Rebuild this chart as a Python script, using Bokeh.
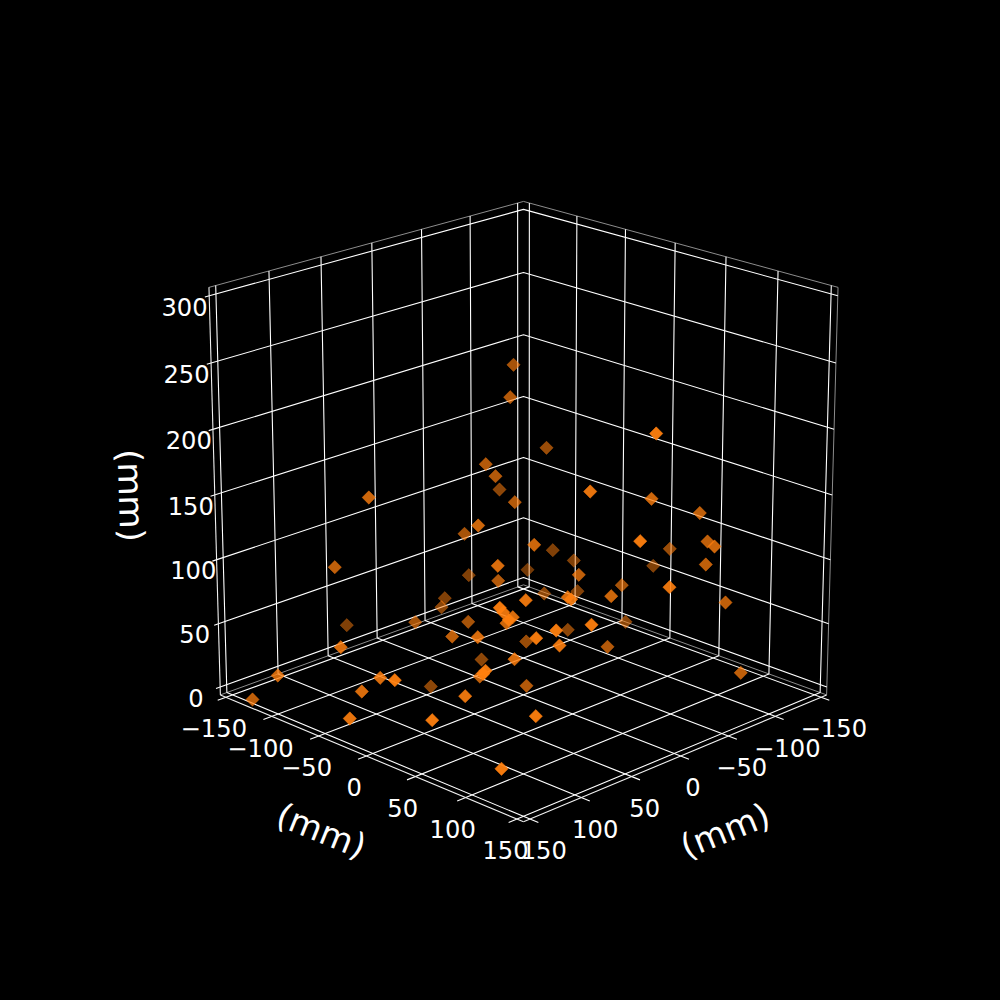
import numpy as np
from bokeh.plotting import figure
from bokeh.core.properties import value
from bokeh.embed import file_html
from bokeh.resources import INLINE

# ---- axis ticks (mm)
x_ticks = [-150, -100, -50, 0, 50, 100, 150]
y_ticks = [-150, -100, -50, 0, 50, 100, 150]
z_ticks = [0, 50, 100, 150, 200, 250, 300]
x_labels = ["\u2212150", "\u2212100", "\u221250", "0", "50", "100", "150"]
y_labels = ["\u2212150", "\u2212100", "\u221250", "0", "50", "100", "150"]
z_labels = ["0", "50", "100", "150", "200", "250", "300"]

# ---- scatter (projected position, depth shade)
pt_u = [513, 509.7, 485.3, 495, 499, 514.3, 368.3, 655.7, 546, 589.7, 651, 699.3,
        334.3, 346.3, 340.3, 277.3, 252, 379.7, 361.3, 394.3, 349.3,
        477.7, 464, 533.7, 552.3, 639.7, 573.3, 497.3, 527, 468.3, 578.3, 497.7,
        621.3, 543.7, 577, 610.7, 444.3, 525.3, 567.3, 570.7, 441, 499.3, 502.7,
        512.3, 508.3, 506, 414.7, 467.7, 451.7, 477.3, 525.7, 535.7, 555.7, 567.3,
        591, 625, 559, 607, 481, 514, 485, 479.3, 482.7, 526, 430.3, 464.7,
        431.7, 535.3, 669.3, 707, 714, 652.7, 705.3, 669, 725, 740.3, 501]
pt_v = [364.3, 396.7, 463.7, 475.7, 489, 501.7, 497, 433, 447.3, 491, 498.3, 512.5,
        566.7, 624.7, 646.7, 675, 699, 677.3, 691, 679.7, 718,
        525, 533.3, 544.3, 549.7, 540.7, 560, 565.3, 569.3, 574.7, 574.3, 580.3,
        584.7, 593, 590.7, 595.7, 597.7, 599.7, 596.7, 598.7, 606.7, 607.3, 611.7,
        616.7, 619.3, 622.7, 621.7, 621.3, 636, 636.7, 641, 637.7, 630, 629.3,
        624.3, 621.3, 645, 646.3, 659, 658.7, 670.3, 676, 673.3, 685.3, 686, 695.7,
        719.7, 715.7, 548.3, 541, 546, 565.3, 564, 586.7, 602, 672.3, 768.3]
pt_shade = [.65, .7, .7, .7, .55, .7, .8, .95, .6, .9, .8, .75,
            .75, .5, .85, .8, .75, .85, .85, .95, .9,
            .8, .65, .8, .5, .95, .5, .85, .45, .5, .75, .7,
            .65, .55, .5, .8, .5, .9, .85, .9, .55, .95, .9,
            .85, .95, .8, .65, .65, .75, .85, .6, .95, .95, .55,
            .95, .55, .9, .7, .55, .85, .95, .75, .95, .7, .55, .9,
            .95, .95, .6, .75, .8, .5, .75, .9, .75, .75, .95]

# ---- camera (fitted to the box in the reference; pixels of the 1000 px page)
ELEV = np.radians(20.0)
K = 0.0545
SCALE = 218.3
CX, CY = 523.0, 494.4
LO, HI = -156.25, 156.25
ZLO, ZHI = -6.25, 306.25


def proj(x, y, z):
    x, y = np.asarray(x, float) / HI, np.asarray(y, float) / HI
    z = (np.asarray(z, float) - 150.0) / HI * 0.993
    m = (x + y) / np.sqrt(2)
    r = (y - x) / np.sqrt(2)
    d = m * np.cos(ELEV) + z * np.sin(ELEV)
    t = -m * np.sin(ELEV) + z * np.cos(ELEV)
    f = 1.0 / (1.0 - K * d)
    return (CX + SCALE * r * f).tolist(), (CY - SCALE * t * f).tolist()


p = figure(width=1000, height=1000, x_range=(0, 1000), y_range=(1000, 0),
           output_backend="svg", toolbar_location=None, min_border=0,
           background_fill_color="black", border_fill_color="black")
p.axis.visible = False
p.grid.visible = False
p.outline_line_color = None

# pane edges
edges = [
    ([LO, LO], [HI, LO], [ZHI, ZHI]),
    ([LO, HI], [LO, LO], [ZHI, ZHI]),
    ([LO, LO], [HI, LO], [ZLO, ZLO]),
    ([LO, HI], [LO, LO], [ZLO, ZLO]),
    ([LO, LO], [HI, HI], [ZLO, ZHI]),
]
ex, ey = zip(*[proj(*e) for e in edges])
p.multi_line(list(ex), list(ey), line_color="#8c8c8c", line_width=1.0)

# grid and tick marks
TICK_OUT = 8.0
TICK_Z = 4.0
gx, gy = [], []
for t in x_ticks:
    u, v = proj([t, t, t], [HI + TICK_OUT, LO, LO], [ZLO, ZLO, ZHI])
    gx.append(u); gy.append(v)
for t in y_ticks:
    u, v = proj([HI + TICK_OUT, LO, LO], [t, t, t], [ZLO, ZLO, ZHI])
    gx.append(u); gy.append(v)
for t in z_ticks:
    u, v = proj([HI + TICK_Z, LO, LO], [LO, LO, HI], [t, t, t])
    gx.append(u); gy.append(v)
p.multi_line(gx, gy, line_color="#ffffff", line_width=1.1)

# axis lines
al = [([HI, HI], [LO, HI], [ZLO, ZLO]),
      ([LO, HI], [HI, HI], [ZLO, ZLO]),
      ([HI, HI], [LO, LO], [ZLO, ZHI])]
ax_, ay_ = zip(*[proj(*e) for e in al])
p.multi_line(list(ax_), list(ay_), line_color="#f0f0f0", line_width=1.1)

# points
p.scatter(pt_u, pt_v, marker="square", size=9.4, angle=np.pi / 4,
          fill_color="#ff7f0e", line_color="#ff7f0e", line_width=0.5,
          fill_alpha=pt_shade, line_alpha=pt_shade)

FONT = value("DejaVu Sans")
# tick labels: layout anchors
yl_u = [213.3, 260, 306, 353.7, 402.2, 452.2, 505]
xl_u = [833.3, 786.8, 741.2, 692.5, 644.2, 594.7, 543.3]
tl_v = [727.2, 747.2, 766, 786, 807, 828.3, 849]
zl_u = [195.5, 194.2, 192.8, 190.3, 188.3, 186, 184]
zl_v = [697, 633, 569.3, 505, 439.3, 373, 306]
for us, vs, txt in ((yl_u, tl_v, y_labels), (xl_u, tl_v, x_labels), (zl_u, zl_v, z_labels)):
    p.text(us, vs, text=txt, text_color="white", text_font=FONT,
           text_font_size="24.2px", text_align="center", text_baseline="middle")

# axis titles
p.text([321], [830], text=["(mm)"], angle=[-22], angle_units="deg", text_color="white",
       text_font=FONT, text_font_size="34px", text_align="center", text_baseline="middle")
p.text([724.5], [830], text=["(mm)"], angle=[22], angle_units="deg", text_color="white",
       text_font=FONT, text_font_size="34px", text_align="center", text_baseline="middle")
p.text([130.5], [495], text=["(mm)"], angle=[-88.3], angle_units="deg", text_color="white",
       text_font=FONT, text_font_size="34px", text_align="center", text_baseline="middle")

TEMPLATE = """
{% block inner_head %}{{ super() }}<style>html,body{background:#000;margin:0;}</style>{% endblock %}
"""
open("out.html", "w").write(file_html(p, INLINE, template=TEMPLATE))
